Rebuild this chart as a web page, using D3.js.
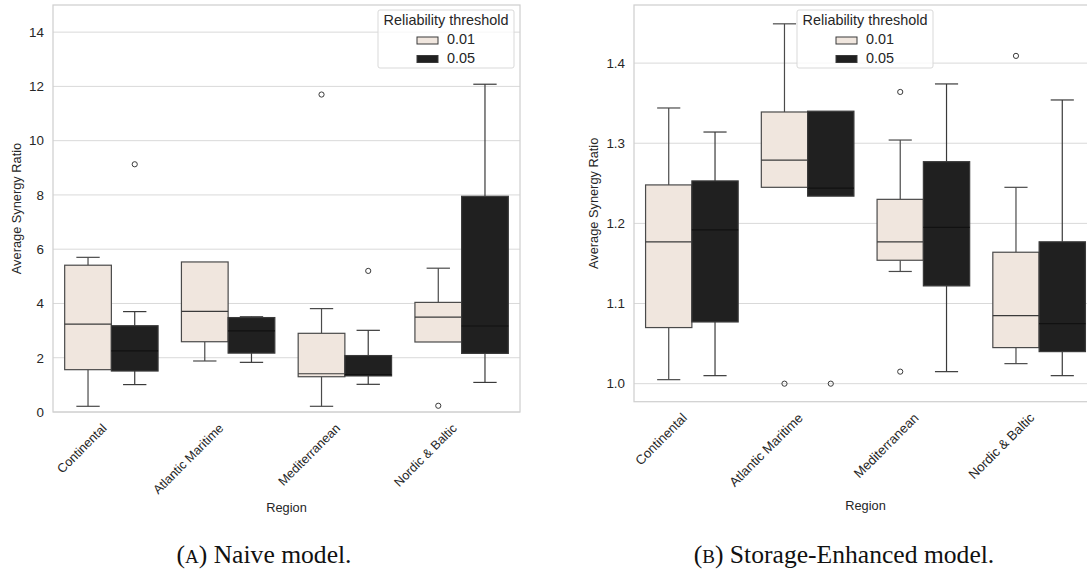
<!DOCTYPE html>
<html>
<head>
<meta charset="utf-8">
<script src="https://cdn.jsdelivr.net/npm/d3@7"></script>
<style>
  body { margin: 0; background: #fff; }
  text { font-family: "Liberation Sans", Arial, sans-serif; fill: #262626; }
  .caption { font-family: "Liberation Serif", "Times New Roman", serif; fill: #111; }
</style>
</head>
<body>
<div id="chart"></div>
<script>
const regions = ["Continental", "Atlantic Maritime", "Mediterranean", "Nordic & Baltic"];
const thresholds = ["0.01", "0.05"];
const colors = ["#f0e6de", "#202020"];

// box stats per region: [lower whisker, q1, median, q3, upper whisker]
const naive01 = [[0.21, 1.56, 3.24, 5.41, 5.70], [1.88, 2.59, 3.71, 5.53, 5.53], [0.21, 1.30, 1.41, 2.90, 3.81], [2.58, 2.58, 3.50, 4.04, 5.30]];
const naive05 = [[1.01, 1.51, 2.25, 3.18, 3.70], [1.83, 2.17, 2.99, 3.48, 3.51], [1.02, 1.33, 1.38, 2.08, 3.01], [1.09, 2.16, 3.17, 7.95, 12.08]];
const naiveOut01 = [[], [], [11.70], [0.23]];
const naiveOut05 = [[9.13], [], [5.20], []];
const naiveTicks = [0, 2, 4, 6, 8, 10, 12, 14];

const storage01 = [[1.005, 1.070, 1.177, 1.248, 1.344], [1.245, 1.245, 1.279, 1.339, 1.449], [1.140, 1.154, 1.177, 1.230, 1.304], [1.025, 1.045, 1.085, 1.164, 1.245]];
const storage05 = [[1.010, 1.077, 1.192, 1.253, 1.314], [1.234, 1.234, 1.244, 1.340, 1.340], [1.015, 1.122, 1.195, 1.277, 1.374], [1.010, 1.040, 1.075, 1.177, 1.354]];
const storageOut01 = [[], [1.0], [1.364, 1.015], [1.409]];
const storageOut05 = [[], [1.0], [], []];
const storageTicks = [1.0, 1.1, 1.2, 1.3, 1.4];

const width = 1087;
const height = 572;

const svg = d3.select("#chart")
    .append("svg")
    .attr("width", width)
    .attr("height", height);

function drawPanel(p) {
    const g = svg.append("g");

    const x = d3.scaleBand()
        .domain(regions)
        .range([p.left, p.right]);

    const sub = d3.scaleBand()
        .domain(thresholds)
        .range([0, x.bandwidth()])
        .paddingOuter(0.25);

    const y = d3.scaleLinear()
        .domain(p.domain)
        .range([p.bottom, p.top]);

    // grid
    g.append("g")
        .selectAll("line")
        .data(p.ticks)
        .enter().append("line")
        .attr("x1", p.left)
        .attr("x2", p.right)
        .attr("y1", d => y(d))
        .attr("y2", d => y(d))
        .attr("stroke", "#d9d9d9")
        .attr("stroke-width", 1);

    const series = [p.s01, p.s05];
    const outs = [p.o01, p.o05];
    const bw = sub.bandwidth();

    series.forEach((s, k) => {
        const t = thresholds[k];
        const boxes = g.append("g")
            .selectAll("g")
            .data(s.map((d, i) => ({ region: regions[i], stats: d, out: outs[k][i] })))
            .enter().append("g")
            .attr("transform", d => `translate(${x(d.region) + sub(t)},0)`);

        const line = k === 0 ? "#4a4a4a" : "#3a3a3a";

        // whiskers
        boxes.append("line")
            .attr("x1", bw / 2).attr("x2", bw / 2)
            .attr("y1", d => y(d.stats[0])).attr("y2", d => y(d.stats[1]))
            .attr("stroke", line).attr("stroke-width", 1.2);
        boxes.append("line")
            .attr("x1", bw / 2).attr("x2", bw / 2)
            .attr("y1", d => y(d.stats[3])).attr("y2", d => y(d.stats[4]))
            .attr("stroke", line).attr("stroke-width", 1.2);
        boxes.filter(d => d.stats[0] < d.stats[1]).append("line")
            .attr("x1", bw / 4).attr("x2", bw * 3 / 4)
            .attr("y1", d => y(d.stats[0])).attr("y2", d => y(d.stats[0]))
            .attr("stroke", line).attr("stroke-width", 1.2);
        boxes.filter(d => d.stats[4] > d.stats[3]).append("line")
            .attr("x1", bw / 4).attr("x2", bw * 3 / 4)
            .attr("y1", d => y(d.stats[4])).attr("y2", d => y(d.stats[4]))
            .attr("stroke", line).attr("stroke-width", 1.2);

        // box
        boxes.append("rect")
            .attr("x", 0)
            .attr("width", bw)
            .attr("y", d => y(d.stats[3]))
            .attr("height", d => y(d.stats[1]) - y(d.stats[3]))
            .attr("fill", colors[k])
            .attr("stroke", line)
            .attr("stroke-width", 1.2);

        // median
        boxes.append("line")
            .attr("x1", 0).attr("x2", bw)
            .attr("y1", d => y(d.stats[2])).attr("y2", d => y(d.stats[2]))
            .attr("stroke", k === 0 ? "#3a3a3a" : "#111")
            .attr("stroke-width", 1.2);

        // outliers
        boxes.selectAll("circle")
            .data(d => d.out)
            .enter().append("circle")
            .attr("cx", bw / 2)
            .attr("cy", d => y(d))
            .attr("r", 2.6)
            .attr("fill", "none")
            .attr("stroke", "#3a3a3a")
            .attr("stroke-width", 1);
    });

    // frame
    g.append("rect")
        .attr("x", p.left)
        .attr("y", p.top)
        .attr("width", p.right - p.left)
        .attr("height", p.bottom - p.top)
        .attr("fill", "none")
        .attr("stroke", "#d0d0d0")
        .attr("stroke-width", 1.25);

    // y axis
    const yAxis = g.append("g")
        .attr("transform", `translate(${p.left},0)`)
        .call(d3.axisLeft(y).tickValues(p.ticks).tickFormat(p.fmt).tickSize(0).tickPadding(9));
    yAxis.select(".domain").remove();
    yAxis.selectAll("text")
        .style("font-family", "Liberation Sans, Arial, sans-serif")
        .style("font-size", "13.4px")
        .attr("fill", "#262626");

    // x tick labels
    g.append("g")
        .selectAll("text")
        .data(regions)
        .enter().append("text")
        .attr("transform", d => `translate(${x(d) + x.bandwidth() / 2 - 4},${p.bottom + p.xlabOff}) rotate(-45)`)
        .attr("text-anchor", "end")
        .style("font-size", p.xfont + "px")
        .text(d => d);

    g.append("text")
        .attr("x", (p.left + p.right) / 2)
        .attr("y", p.regionY)
        .attr("text-anchor", "middle")
        .style("font-size", "12.8px")
        .text("Region");

    g.append("text")
        .attr("transform", `translate(${p.ylabX},${(p.top + p.bottom) / 2}) rotate(-90)`)
        .attr("text-anchor", "middle")
        .style("font-size", "12.8px")
        .text("Average Synergy Ratio");

    // legend
    const lg = g.append("g").attr("transform", `translate(${p.legX},${p.top + 5})`);
    lg.append("rect")
        .attr("width", 136).attr("height", 58)
        .attr("rx", 2)
        .attr("fill", "#fff").attr("fill-opacity", 0.8)
        .attr("stroke", "#d9d9d9").attr("stroke-width", 1);
    lg.append("text")
        .attr("x", 68).attr("y", 15)
        .attr("text-anchor", "middle")
        .style("font-size", "14.4px")
        .text("Reliability threshold");
    thresholds.forEach((t, i) => {
        lg.append("rect")
            .attr("x", 39).attr("y", 27 + i * 18.5)
            .attr("width", 21).attr("height", 7)
            .attr("fill", colors[i])
            .attr("stroke", "#3a3a3a").attr("stroke-width", 1);
        lg.append("text")
            .attr("x", 69).attr("y", 34 + i * 18.5)
            .style("font-size", "14.4px")
            .text(t);
    });

    // caption
    const cap = svg.append("text")
        .attr("class", "caption")
        .attr("x", p.capX)
        .attr("y", 563)
        .attr("text-anchor", "middle")
        .style("font-family", "Liberation Serif, Times New Roman, serif")
        .style("font-size", "25.6px");
    cap.append("tspan").text("(");
    cap.append("tspan").style("font-size", "19px").text(p.letter);
    cap.append("tspan").text(") " + p.caption);
}

drawPanel({
    left: 53, right: 520, top: 5, bottom: 412,
    domain: [0, 15], ticks: naiveTicks, fmt: d3.format("d"),
    s01: naive01, s05: naive05, o01: naiveOut01, o05: naiveOut05,
    xlabOff: 17, xfont: 12.6, regionY: 512, ylabX: 21, legX: 378,
    capX: 264, letter: "A", caption: "Naive model."
});

drawPanel({
    left: 634, right: 1097, top: 5, bottom: 401.7,
    domain: [0.9775, 1.4725], ticks: storageTicks, fmt: d3.format(".1f"),
    s01: storage01, s05: storage05, o01: storageOut01, o05: storageOut05,
    xlabOff: 17, xfont: 13.2, regionY: 510, ylabX: 598, legX: 797,
    capX: 844, letter: "B", caption: "Storage-Enhanced model."
});
</script>
</body>
</html>
